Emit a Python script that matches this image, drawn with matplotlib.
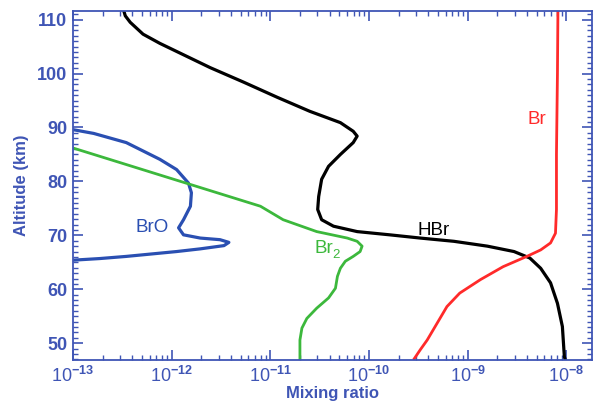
import numpy as np
import matplotlib.pyplot as plt
from matplotlib.ticker import LogLocator, MultipleLocator, FixedLocator, FixedFormatter

plt.rcParams['font.family'] = ['Liberation Sans', 'DejaVu Sans']
plt.rcParams['mathtext.fontset'] = 'custom'
plt.rcParams['mathtext.rm'] = 'Liberation Sans:bold'
plt.rcParams['mathtext.it'] = 'Liberation Sans:bold'

# log10 of mixing ratio vs altitude (km)
hbr_lx = [-12.49, -12.47, -12.42, -12.29, -12.12, -11.95, -11.61, -11.27, -10.93, -10.60,
          -10.29, -10.16, -10.12, -10.16, -10.29, -10.41, -10.48, -10.51, -10.52, -10.48,
          -10.36, -10.12, -9.79, -9.48, -9.14, -8.80, -8.53, -8.37, -8.26, -8.16,
          -8.09, -8.04, -8.02, -8.01]
hbr_alt = [111.9, 110.7, 109.5, 107.3, 105.6, 104.1, 101.1, 98.4, 95.6, 93.0,
           90.9, 89.3, 88.4, 87.2, 85.0, 82.8, 80.4, 77.2, 74.8, 72.9,
           71.7, 70.7, 70.1, 69.5, 68.9, 68.0, 67.0, 65.8, 63.9, 61.2,
           57.4, 53.1, 47.5, 46.9]

br_lx = [-8.085, -8.09, -8.10, -8.10, -8.11, -8.16, -8.26, -8.40, -8.64, -8.87,
         -9.08, -9.21, -9.31, -9.41, -9.48, -9.55]
br_alt = [111.9, 100.0, 85.0, 74.8, 70.4, 68.6, 67.3, 66.1, 64.2, 61.8,
          59.3, 56.8, 53.7, 50.6, 48.8, 46.9]

bro_lx = [-13.0, -12.79, -12.46, -12.12, -11.95, -11.83, -11.80, -11.81, -11.88, -11.93,
          -11.88, -11.71, -11.51, -11.42, -11.47, -11.71, -11.95, -12.12, -12.46, -12.73,
          -13.0]
bro_alt = [89.6, 88.9, 87.2, 84.1, 82.2, 79.7, 77.9, 75.4, 72.9, 71.4,
           70.1, 69.5, 69.2, 68.7, 68.1, 67.5, 67.0, 66.7, 66.1, 65.7,
           65.4]

br2_lx = [-13.0, -11.10, -10.87, -10.53, -10.22, -10.12, -10.07, -10.09, -10.16, -10.24,
          -10.29, -10.32, -10.34, -10.41, -10.53, -10.63, -10.68, -10.70, -10.70, -10.70]
br2_alt = [86.2, 75.4, 72.9, 70.7, 69.5, 68.9, 68.0, 67.0, 66.1, 65.2,
           63.9, 62.4, 60.2, 58.4, 56.5, 54.6, 52.8, 50.6, 47.5, 46.9]

xtick_vals = [1e-13, 1e-12, 1e-11, 1e-10, 1e-9, 1e-8]
xtick_labels = ['10$^{-13}$', '10$^{-12}$', '10$^{-11}$', '10$^{-10}$', '10$^{-9}$', '10$^{-8}$']

axis_col = '#3f55b5'
bro_col = '#2a4fb2'
br2_col = '#3cb83c'
br_col = '#ff2a2a'

fig = plt.figure(figsize=(5.94, 4.04), dpi=100)
ax = fig.add_axes([0.1229, 0.109, 0.8737, 0.8638])

kw = dict(solid_joinstyle='round', solid_capstyle='butt')
ax.plot(10**np.array(hbr_lx), hbr_alt, color='black', lw=2.3, **kw)
ax.plot(10**np.array(br_lx), br_alt, color=br_col, lw=2.0, **kw)
ax.plot(10**np.array(bro_lx), bro_alt, color=bro_col, lw=2.3, **kw)
ax.plot(10**np.array(br2_lx), br2_alt, color=br2_col, lw=2.0, **kw)

# curve labels
ax.text(10**-12.20, 71.4, 'BrO', color=bro_col, fontsize=13.5, ha='center', va='center')
ax.text(10**-10.36, 67.6, 'Br', color=br2_col, fontsize=13.5, ha='right', va='center')
ax.text(10**-10.375, 66.3, '2', color=br2_col, fontsize=9.5, ha='left', va='center')
ax.text(10**-9.35, 70.9, 'HBr', color='black', fontsize=13.5, ha='center', va='center')
ax.text(10**-8.30, 91.5, 'Br', color=br_col, fontsize=13.5, ha='center', va='center')

ax.set_xscale('log')
ax.set_xlim(1e-13, 10**-7.74)
ax.set_ylim(46.9, 111.6)

ax.xaxis.set_major_locator(FixedLocator(xtick_vals))
ax.xaxis.set_major_formatter(FixedFormatter(xtick_labels))
ax.xaxis.set_minor_locator(LogLocator(base=10, subs=np.arange(2, 10), numticks=20))
ax.yaxis.set_major_locator(MultipleLocator(10))
ax.yaxis.set_minor_locator(MultipleLocator(1))

ax.tick_params(which='both', direction='in', top=True, right=True, color=axis_col,
               labelcolor=axis_col, labelsize=13)
ax.tick_params(which='major', length=7, width=1.2, pad=4)
ax.tick_params(which='minor', length=3.5, width=1.0)
for lab in ax.get_yticklabels():
    lab.set_fontweight('bold')
for s in ax.spines.values():
    s.set_color(axis_col)
    s.set_linewidth(1.3)

ax.set_xlabel('Mixing ratio', color=axis_col, fontsize=12, fontweight='bold', labelpad=0)
ax.set_ylabel('Altitude (km)', color=axis_col, fontsize=12, fontweight='bold', labelpad=6)

fig.savefig('out.png', dpi=100)
